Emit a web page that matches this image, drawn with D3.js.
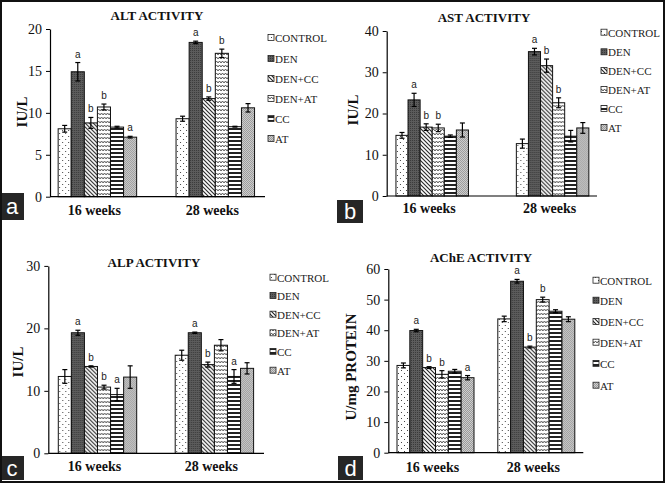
<!DOCTYPE html>
<html>
<head>
<meta charset="utf-8">
<script src="https://cdnjs.cloudflare.com/ajax/libs/d3/7.8.5/d3.min.js"></script>
<style>
html,body{margin:0;padding:0;background:#fff;}
svg{display:block;}
</style>
</head>
<body>
<svg id="chart" width="665" height="483"></svg>
<script>
// ---------- data ----------
const categories = ["16 weeks", "28 weeks"];
const seriesNames = ["CONTROL", "DEN", "DEN+CC", "DEN+AT", "CC", "AT"];

const altMean16 = [8.1, 14.9, 8.8, 10.7, 8.3, 7.1];
const altMean28 = [9.3, 18.4, 11.7, 17.1, 8.35, 10.6];
const altErr16 = [0.4, 1.1, 0.65, 0.35, 0.1, 0.1];
const altErr28 = [0.3, 0.15, 0.2, 0.5, 0.05, 0.5];
const altSig16 = ["", "a", "b", "b", "", "a"];
const altSig28 = ["", "a", "b", "b", "", ""];
const altTicks = [0, 5, 10, 15, 20];

const astMean16 = [14.7, 23.3, 16.7, 16.5, 14.5, 16.0];
const astMean28 = [12.7, 35.0, 31.6, 22.6, 14.5, 16.5];
const astErr16 = [0.7, 1.6, 0.8, 0.9, 0.3, 1.7];
const astErr28 = [1.1, 0.8, 1.6, 1.2, 1.4, 1.3];
const astSig16 = ["", "a", "b", "b", "", ""];
const astSig28 = ["", "a", "b", "b", "", ""];
const astTicks = [0, 10, 20, 30, 40];

const alpMean16 = [12.3, 19.3, 13.9, 10.6, 9.4, 12.2];
const alpMean28 = [15.7, 19.3, 14.2, 17.3, 12.3, 13.6];
const alpErr16 = [1.1, 0.4, 0.1, 0.3, 1.0, 1.8];
const alpErr28 = [0.8, 0.1, 0.4, 0.9, 1.1, 0.9];
const alpSig16 = ["", "a", "b", "b", "a", ""];
const alpSig28 = ["", "a", "b", "", "a", ""];
const alpTicks = [0, 10, 20, 30];

const acheMean16 = [28.5, 39.9, 27.8, 25.6, 26.6, 24.5];
const acheMean28 = [43.7, 56.0, 34.5, 50.0, 46.2, 43.6];
const acheErr16 = [0.8, 0.4, 0.3, 1.2, 0.6, 0.7];
const acheErr28 = [0.9, 0.6, 0.3, 0.8, 0.5, 0.8];
const acheSig16 = ["", "a", "b", "b", "", "a"];
const acheSig28 = ["", "a", "b", "b", "", ""];
const acheTicks = [0, 10, 20, 30, 40, 50, 60];

// ---------- drawing ----------
const svg = d3.select("#chart");
const defs = svg.append("defs");
const SERIF = "'Liberation Serif','Times New Roman',serif";
const SANS = "'Liberation Sans',Arial,sans-serif";

// patterns
function pat(id, w, h, build) {
  const p = defs.append("pattern").attr("id", id).attr("patternUnits", "userSpaceOnUse")
    .attr("width", w).attr("height", h);
  build(p);
}
pat("p0", 6, 6, p => {
  p.append("rect").attr("width", 6).attr("height", 6).attr("fill", "#fff");
  p.append("rect").attr("x", 1).attr("y", 1).attr("width", 1).attr("height", 1).attr("fill", "#444");
  p.append("rect").attr("x", 4).attr("y", 4).attr("width", 1).attr("height", 1).attr("fill", "#444");
});
pat("p1", 2, 2, p => {
  p.append("rect").attr("width", 2).attr("height", 2).attr("fill", "#5c5c5c");
  p.append("rect").attr("width", 1).attr("height", 1).attr("fill", "#3a3a3a");
});
pat("p2", 4, 4, p => {
  p.append("rect").attr("width", 4).attr("height", 4).attr("fill", "#fff");
  p.append("path").attr("d", "M-1,-1 L5,5 M-1,3 L1,5 M3,-1 L5,1").attr("stroke", "#222").attr("stroke-width", 1.1);
});
pat("p3", 6, 4, p => {
  p.append("rect").attr("width", 6).attr("height", 4).attr("fill", "#fff");
  p.append("path").attr("d", "M0,3 L1.5,1 L3,3 L4.5,1 L6,3").attr("fill", "none").attr("stroke", "#333").attr("stroke-width", 0.8);
});
pat("p4", 4, 4, p => {
  p.append("rect").attr("width", 4).attr("height", 4).attr("fill", "#fff");
  p.append("rect").attr("y", 0).attr("width", 4).attr("height", 2).attr("fill", "#222");
});
pat("p5", 2, 2, p => {
  p.append("rect").attr("width", 2).attr("height", 2).attr("fill", "#cfcfcf");
  p.append("rect").attr("width", 1).attr("height", 1).attr("fill", "#9a9a9a");
  p.append("rect").attr("x", 1).attr("y", 1).attr("width", 1).attr("height", 1).attr("fill", "#9a9a9a");
});
const fills = ["url(#p0)", "url(#p1)", "url(#p2)", "url(#p3)", "url(#p4)", "url(#p5)"];

const panels = [
  { label: "a", title: "ALT ACTIVITY", ylab: "IU/L", means: [altMean16, altMean28], errs: [altErr16, altErr28], sigs: [altSig16, altSig28], ticks: altTicks,
    ax: 50, axEnd: 265, y0: 196.7, yTop: 29, c1: 97.4, c2: 215.3, bw: 78.5,
    titleX: 157, titleY: 20, ylabX: 22, ylabY: 112, catY: 215,
    legX: 268, legY: [38, 59, 79, 99, 119, 139], box: [0, 193, 24, 27] },
  { label: "b", title: "AST ACTIVITY", ylab: "IU/L", means: [astMean16, astMean28], errs: [astErr16, astErr28], sigs: [astSig16, astSig28], ticks: astTicks,
    ax: 386.7, axEnd: 597, y0: 196, yTop: 31, c1: 432.2, c2: 552.6, bw: 72.5,
    titleX: 484, titleY: 21.5, ylabX: 353, ylabY: 110, catY: 213,
    legX: 601, legY: [32.7, 52.3, 71, 90, 109, 128], box: [337, 200, 26, 23] },
  { label: "c", title: "ALP ACTIVITY", ylab: "IU/L", means: [alpMean16, alpMean28], errs: [alpErr16, alpErr28], sigs: [alpSig16, alpSig28], ticks: alpTicks,
    ax: 48.3, axEnd: 264, y0: 453.3, yTop: 265.9, c1: 97.5, c2: 214.4, bw: 78.4,
    titleX: 154, titleY: 266.5, ylabX: 18, ylabY: 362, catY: 471,
    legX: 270, legY: [277.7, 296, 314.7, 333.3, 352, 370.7], box: [0, 456, 24, 24] },
  { label: "d", title: "AChE ACTIVITY", ylab: "U/mg PROTEIN", means: [acheMean16, acheMean28], errs: [acheErr16, acheErr28], sigs: [acheSig16, acheSig28], ticks: acheTicks,
    ax: 388.3, axEnd: 583.3, y0: 452.7, yTop: 269, c1: 435.5, c2: 536.3, bw: 77,
    titleX: 481, titleY: 261.5, ylabX: 351, ylabY: 367, catY: 472,
    legX: 593, legY: [280.7, 300.7, 322, 342.7, 364, 385.7], box: [338, 456, 25, 24] }
];

function drawPanel(p) {
  const g = svg.append("g");
  const ymax = p.ticks[p.ticks.length - 1];
  const y = d3.scaleLinear().domain([0, ymax]).range([p.y0, p.yTop]);
  const step = p.c2 - p.c1;
  const pIn = 1 - p.bw / step;
  const x0 = d3.scaleBand().domain(categories).range([p.c1 - step / 2, p.c2 + step / 2])
    .paddingInner(pIn).paddingOuter(pIn / 2);
  const x1 = d3.scaleBand().domain(seriesNames).range([0, x0.bandwidth()]);

  // y axis
  const ya = g.append("g").attr("transform", `translate(${p.ax},0)`)
    .call(d3.axisLeft(y).tickValues(p.ticks).tickSize(4).tickSizeOuter(0).tickPadding(4));
  ya.attr("font-family", SERIF);
  ya.select(".domain").attr("stroke", "#000").attr("stroke-width", 1.2);
  ya.selectAll(".tick line").attr("stroke", "#000");
  ya.selectAll(".tick text").attr("font-family", SERIF).attr("font-size", 14).attr("fill", "#111");

  // bars
  categories.forEach((cat, ci) => {
    const gg = g.append("g").attr("transform", `translate(${x0(cat)},0)`);
    const rows = seriesNames.map((s, si) => ({ s, si, v: p.means[ci][si], e: p.errs[ci][si], sig: p.sigs[ci][si] }));
    gg.selectAll("rect.bar").data(rows).join("rect").attr("class", "bar")
      .attr("x", d => x1(d.s)).attr("width", x1.bandwidth())
      .attr("y", d => y(d.v)).attr("height", d => y(0) - y(d.v))
      .attr("fill", d => fills[d.si]).attr("stroke", "#111").attr("stroke-width", 1);
    // error bars
    const eb = gg.selectAll("g.err").data(rows).join("g").attr("class", "err")
      .attr("transform", d => `translate(${x1(d.s) + x1.bandwidth() / 2},0)`);
    eb.append("line").attr("y1", d => y(d.v + d.e)).attr("y2", d => y(d.v - d.e)).attr("stroke", "#000").attr("stroke-width", 1.2);
    eb.append("line").attr("x1", -2.5).attr("x2", 2.5).attr("y1", d => y(d.v + d.e)).attr("y2", d => y(d.v + d.e)).attr("stroke", "#000").attr("stroke-width", 1.2);
    eb.append("line").attr("x1", -2.5).attr("x2", 2.5).attr("y1", d => y(d.v - d.e)).attr("y2", d => y(d.v - d.e)).attr("stroke", "#000").attr("stroke-width", 1.2);
    eb.filter(d => d.sig).append("text").attr("y", d => y(d.v + d.e) - 5).attr("text-anchor", "middle")
      .attr("font-family", SANS).attr("font-size", 10).attr("fill", "#222").text(d => d.sig);
  });

  // x axis line
  g.append("line").attr("x1", p.ax).attr("x2", p.axEnd).attr("y1", p.y0).attr("y2", p.y0)
    .attr("stroke", "#000").attr("stroke-width", 1.2);
  // category labels
  categories.forEach(cat => {
    g.append("text").attr("x", x0(cat) + x0.bandwidth() / 2 - 3).attr("y", p.catY).attr("text-anchor", "middle")
      .attr("font-family", SERIF).attr("font-weight", "bold").attr("font-size", 14).attr("fill", "#111").text(cat);
  });
  // title
  g.append("text").attr("x", p.titleX).attr("y", p.titleY).attr("text-anchor", "middle")
    .attr("font-family", SERIF).attr("font-weight", "bold").attr("font-size", 13).attr("fill", "#111").text(p.title);
  // y label
  g.append("text").attr("transform", `translate(${p.ylabX},${p.ylabY}) rotate(-90)`).attr("text-anchor", "middle")
    .attr("dy", "0.35em")
    .attr("font-family", SERIF).attr("font-weight", "bold").attr("font-size", 15).attr("fill", "#111").text(p.ylab);
  // legend
  seriesNames.forEach((s, si) => {
    const ly = p.legY[si];
    g.append("rect").attr("x", p.legX).attr("y", ly - 3.5).attr("width", 6).attr("height", 6)
      .attr("fill", fills[si]).attr("stroke", "#222").attr("stroke-width", 0.8);
    g.append("text").attr("x", p.legX + 7).attr("y", ly).attr("dy", "0.35em")
      .attr("font-family", SERIF).attr("font-size", 11).attr("fill", "#222").text(s);
  });
  // panel label box
  g.append("rect").attr("x", p.box[0]).attr("y", p.box[1]).attr("width", p.box[2]).attr("height", p.box[3]).attr("fill", "#262626");
  g.append("text").attr("x", p.box[0] + p.box[2] / 2).attr("y", p.box[1] + p.box[3] / 2).attr("dy", "0.36em")
    .attr("text-anchor", "middle").attr("font-family", SANS).attr("font-size", 22).attr("fill", "#fff").text(p.label);
}

panels.forEach(drawPanel);

// outer frame
svg.append("rect").attr("x", 1).attr("y", 1).attr("width", 663).attr("height", 481)
  .attr("fill", "none").attr("stroke", "#111").attr("stroke-width", 2);
</script>
</body>
</html>
